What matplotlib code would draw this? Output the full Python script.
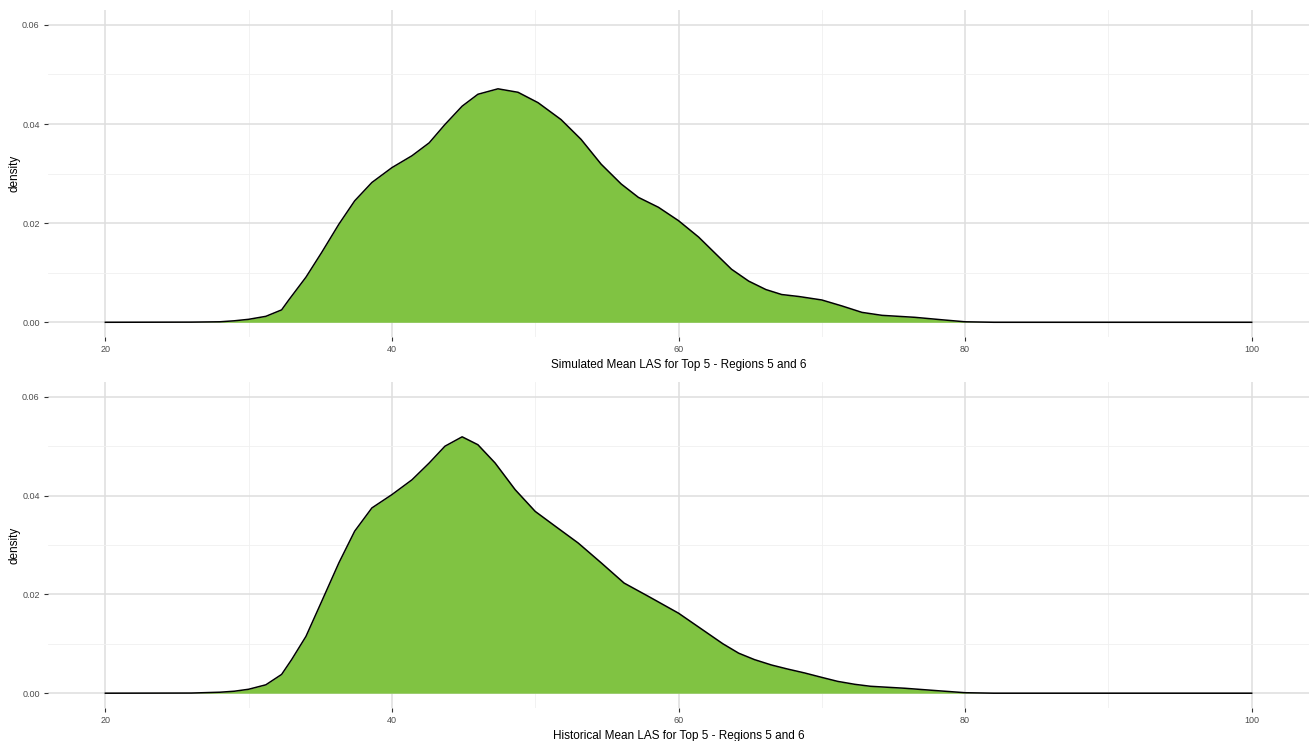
import matplotlib.pyplot as plt
from matplotlib.ticker import MultipleLocator

plt.rcParams['font.family'] = ['Liberation Sans', 'DejaVu Sans']

# Density curves (x = mean LAS, y = density)
sim_x = [20, 26, 28, 29, 30, 31.2, 32.3, 32.8, 34.0, 35.1, 36.3, 37.4, 38.6,
         40.0, 41.4, 42.6, 43.7, 44.9, 46.0, 47.4, 48.8, 50.2, 51.8, 53.2,
         54.6, 56.0, 57.2, 58.6, 60.0, 61.4, 62.6, 63.7, 64.9, 66.1, 67.2,
         68.4, 70.0, 71.4, 72.8, 74.2, 76.5, 78.4, 80.0, 82, 100]
sim_y = [0, 0.00003, 0.0001, 0.0003, 0.0006, 0.0012, 0.0025, 0.0045, 0.0091,
         0.0141, 0.0198, 0.0245, 0.0282, 0.0312, 0.0336, 0.0362, 0.0399,
         0.0436, 0.0460, 0.0471, 0.0464, 0.0443, 0.0409, 0.0369, 0.0319,
         0.0279, 0.0252, 0.0232, 0.0205, 0.0172, 0.0138, 0.0107, 0.0083,
         0.0066, 0.0056, 0.0052, 0.0045, 0.0033, 0.0020, 0.0014, 0.0010,
         0.0005, 0.0001, 0, 0]

hist_x = [20, 26, 28, 29, 30, 31.2, 32.3, 33.0, 34.0, 35.1, 36.3, 37.4, 38.6,
          40.0, 41.4, 42.6, 43.7, 44.9, 46.0, 47.2, 48.6, 50.0, 51.4, 53.0,
          54.6, 56.2, 57.9, 60.0, 62.0, 63.1, 64.2, 65.3, 66.5, 67.6, 68.8,
          70.0, 71.1, 72.3, 73.4, 75.8, 78.1, 80.0, 82, 100]
hist_y = [0, 0.00003, 0.0002, 0.0004, 0.0008, 0.0017, 0.0038, 0.0068, 0.0115,
          0.0186, 0.0264, 0.0328, 0.0375, 0.0402, 0.0432, 0.0466, 0.0500,
          0.0519, 0.0503, 0.0466, 0.0412, 0.0368, 0.0338, 0.0304, 0.0264,
          0.0223, 0.0196, 0.0162, 0.0122, 0.0100, 0.0081, 0.0068, 0.0057,
          0.0049, 0.0041, 0.0032, 0.0024, 0.0018, 0.0014, 0.0010, 0.0005,
          0.0001, 0, 0]

x_ticks = [20, 40, 60, 80, 100]
y_ticks = [0.00, 0.02, 0.04, 0.06]
labels = ["Simulated Mean LAS for Top 5 - Regions 5 and 6",
          "Historical Mean LAS for Top 5 - Regions 5 and 6"]
fill_color = '#80C342'

fig = plt.figure(figsize=(13.09, 7.41), dpi=100)
ax_top = fig.add_axes([0.0367, 0.545, 0.9633, 0.4415])
ax_bot = fig.add_axes([0.0367, 0.0445, 0.9633, 0.44])

for ax, xs, ys, lab in [(ax_top, sim_x, sim_y, labels[0]),
                        (ax_bot, hist_x, hist_y, labels[1])]:
    ax.fill_between(xs, ys, 0, color=fill_color, lw=0, zorder=2)
    ax.plot(xs, ys, color='black', lw=1.1, zorder=3,
            solid_joinstyle='round')
    ax.set_xlim(16, 104)
    ax.set_ylim(-0.003, 0.063)
    ax.set_xticks(x_ticks)
    ax.set_yticks(y_ticks)
    ax.set_yticklabels([f"{v:.2f}" for v in y_ticks])
    ax.xaxis.set_minor_locator(MultipleLocator(10))
    ax.yaxis.set_minor_locator(MultipleLocator(0.01))
    ax.grid(True, which='major', color='#DEDEDE', lw=1.1, zorder=0)
    ax.grid(True, which='minor', color='#F0F0F0', lw=0.6, zorder=0)
    ax.set_axisbelow(True)
    for s in ax.spines.values():
        s.set_visible(False)
    ax.tick_params(which='major', length=3, width=0.8, color='#333333',
                   labelsize=6.5, labelcolor='#4D4D4D', pad=3)
    ax.tick_params(which='minor', length=0)
    ax.set_xlabel(lab, fontsize=8.5, labelpad=3)
    ax.set_ylabel('density', fontsize=8.5, labelpad=1)

fig.savefig('out.png', dpi=100)
